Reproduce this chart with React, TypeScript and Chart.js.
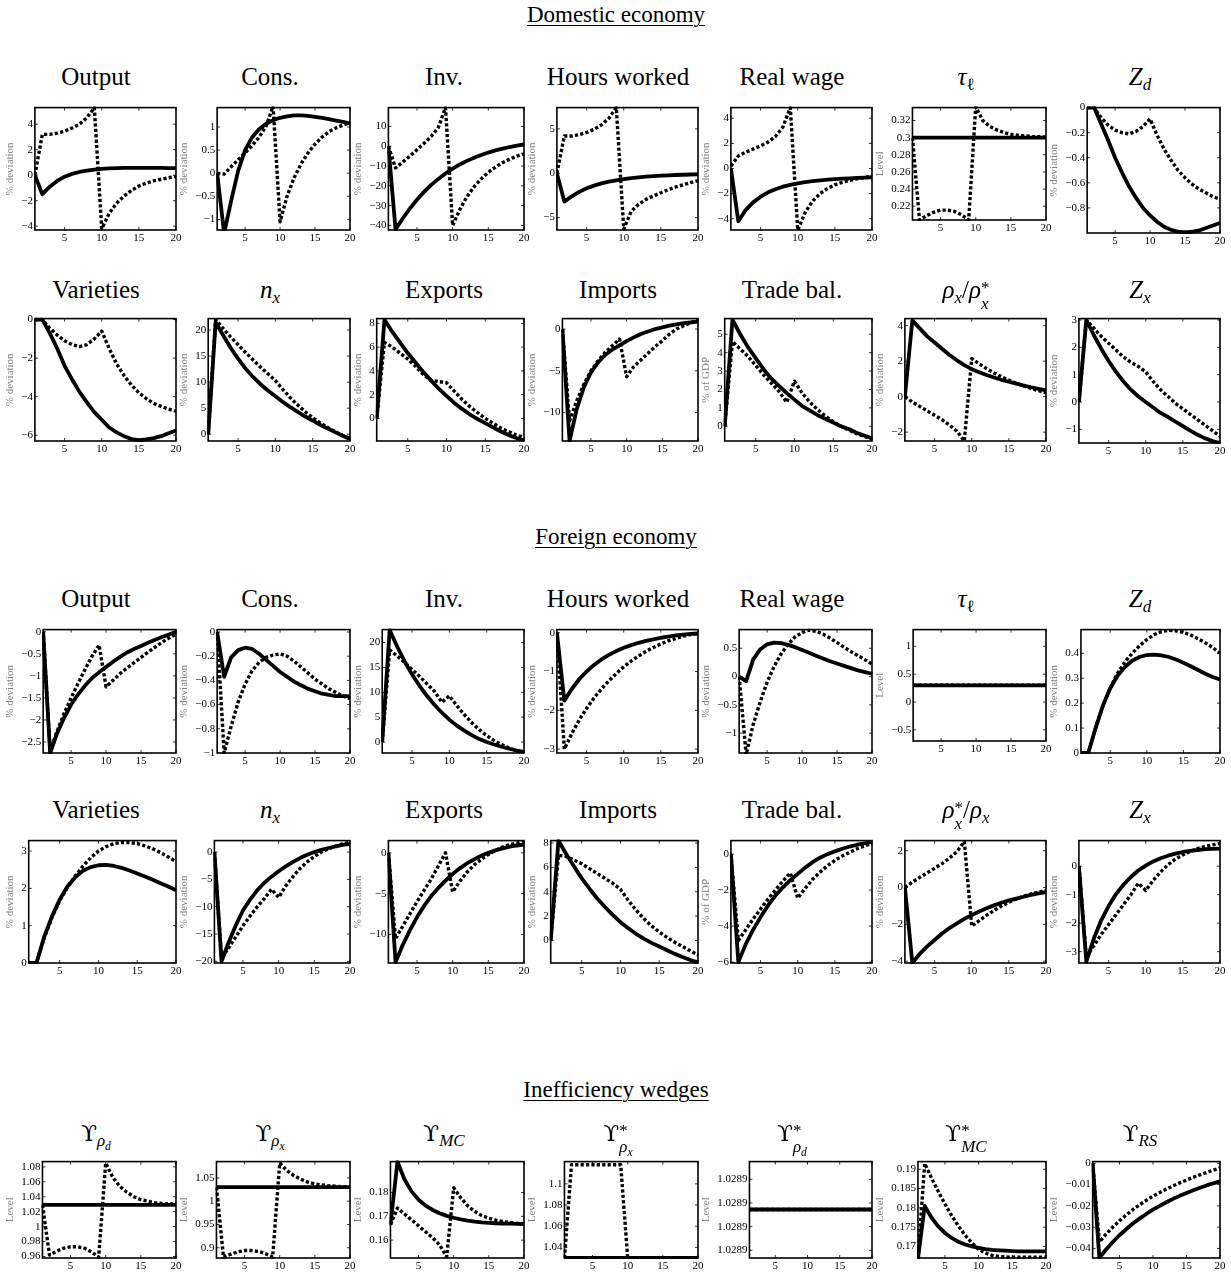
import React, { useEffect, useRef } from "react";
import { Chart, registerables } from "chart.js";
Chart.register(...registerables);

const FONT = "'Liberation Serif', 'Times New Roman', Times, serif";

// ---------- data ----------
const periods = [1, 2, 3, 4, 5, 6, 7, 8, 9, 10, 11, 12, 13, 14, 15, 16, 17, 18, 19, 20];
const xTickValues = [5, 10, 15, 20];

// Domestic economy, row 1
const domOutputSolid = [0, -1.5, -0.9, -0.45, -0.12, 0.1, 0.25, 0.36, 0.44, 0.5, 0.53, 0.55, 0.57, 0.58, 0.58, 0.58, 0.58, 0.57, 0.56, 0.55];
const domOutputDotted = [0, 3.2, 3.2, 3.3, 3.45, 3.7, 4.0, 4.5, 5.3, -4.2, -3.0, -2.2, -1.65, -1.2, -0.85, -0.62, -0.45, -0.32, -0.2, -0.1];
const domOutputTicks = [-4, -2, 0, 2, 4];
const domConsSolid = [0, -1.3, -0.6, 0.05, 0.5, 0.78, 0.95, 1.07, 1.15, 1.2, 1.23, 1.25, 1.25, 1.24, 1.22, 1.2, 1.17, 1.14, 1.11, 1.08];
const domConsDotted = [0, -0.02, 0.14, 0.29, 0.44, 0.6, 0.78, 1.02, 1.45, -1.05, -0.5, -0.1, 0.2, 0.44, 0.63, 0.78, 0.9, 0.98, 1.04, 1.1];
const domConsTicks = [-1, -0.5, 0, 0.5, 1];
const domInvSolid = [0, -42, -36.5, -31.5, -27, -23, -19.5, -16.5, -13.8, -11.3, -9.2, -7.4, -5.8, -4.4, -3.2, -2.1, -1.2, -0.4, 0.3, 0.9];
const domInvDotted = [0, -11, -8, -5, -1.8, 1.5, 5, 9.5, 19.5, -40, -32, -25.5, -20.5, -16.5, -13.2, -10.5, -8.3, -6.5, -5, -3.8];
const domInvTicks = [-40, -30, -20, -10, 0, 10];
const domHoursSolid = [0, -3.2, -2.6, -2.1, -1.7, -1.4, -1.15, -0.95, -0.8, -0.66, -0.55, -0.46, -0.39, -0.33, -0.28, -0.24, -0.2, -0.17, -0.14, -0.12];
const domHoursDotted = [0, 4.2, 4.2, 4.35, 4.6, 4.95, 5.45, 6.2, 7.4, -6.3, -4.3, -3.5, -2.95, -2.55, -2.2, -1.85, -1.55, -1.3, -1.05, -0.85];
const domHoursTicks = [-5, 0, 5];
const domWageSolid = [0, -4.2, -3.3, -2.7, -2.25, -1.9, -1.65, -1.45, -1.3, -1.18, -1.08, -1.0, -0.94, -0.89, -0.85, -0.81, -0.78, -0.75, -0.72, -0.7];
const domWageDotted = [0.2, 1.0, 1.3, 1.55, 1.8, 2.1, 2.55, 3.3, 4.85, -4.9, -3.5, -2.6, -2.0, -1.6, -1.3, -1.1, -0.95, -0.82, -0.72, -0.62];
const domWageTicks = [-4, -2, 0, 2, 4];
const domTauSolid = [0.3, 0.3, 0.3, 0.3, 0.3, 0.3, 0.3, 0.3, 0.3, 0.3, 0.3, 0.3, 0.3, 0.3, 0.3, 0.3, 0.3, 0.3, 0.3, 0.3];
const domTauDotted = [0.3, 0.204, 0.209, 0.213, 0.2155, 0.2155, 0.214, 0.21, 0.204, 0.336, 0.32, 0.313, 0.309, 0.306, 0.304, 0.3028, 0.302, 0.3014, 0.301, 0.3006];
const domTauTicks = [0.22, 0.24, 0.26, 0.28, 0.3, 0.32];
const domZdSolid = [0, 0, -0.13, -0.26, -0.4, -0.52, -0.63, -0.72, -0.8, -0.86, -0.91, -0.95, -0.975, -0.99, -0.995, -0.99, -0.98, -0.96, -0.94, -0.92];
const domZdDotted = [0, 0, -0.08, -0.14, -0.18, -0.2, -0.21, -0.19, -0.15, -0.09, -0.22, -0.33, -0.42, -0.5, -0.56, -0.61, -0.65, -0.68, -0.71, -0.73];
const domZdTicks = [-0.8, -0.6, -0.4, -0.2, 0];

// Domestic economy, row 2
const domVarSolid = [0, 0, -0.7, -1.5, -2.4, -3.1, -3.75, -4.3, -4.8, -5.2, -5.6, -5.85, -6.05, -6.2, -6.25, -6.22, -6.15, -6.05, -5.9, -5.75];
const domVarDotted = [0, 0, -0.45, -0.8, -1.1, -1.3, -1.4, -1.3, -1.0, -0.6, -1.5, -2.3, -2.9, -3.4, -3.8, -4.1, -4.35, -4.5, -4.65, -4.75];
const domVarTicks = [-6, -4, -2, 0];
const domNxSolid = [0, 21.5, 19, 16.6, 14.5, 12.6, 11, 9.6, 8.4, 7.3, 6.2, 5.2, 4.3, 3.4, 2.6, 1.8, 1.1, 0.4, -0.3, -0.9];
const domNxDotted = [0, 22, 20.3, 18.7, 17.2, 15.7, 14.3, 12.9, 11.6, 10.3, 8.6, 7.0, 5.6, 4.3, 3.2, 2.2, 1.3, 0.5, -0.2, -0.8];
const domNxTicks = [0, 5, 10, 15, 20];
const domExpSolid = [0, 8.3, 7.3, 6.4, 5.5, 4.7, 3.9, 3.2, 2.5, 1.9, 1.3, 0.8, 0.35, -0.05, -0.4, -0.75, -1.1, -1.4, -1.65, -1.85];
const domExpDotted = [0, 6.4, 6.0, 5.5, 5.0, 4.4, 3.7, 3.2, 3.1, 3.0, 2.3, 1.6, 1.0, 0.5, 0.0, -0.4, -0.8, -1.1, -1.4, -1.6];
const domExpTicks = [0, 2, 4, 6, 8];
const domImpSolid = [0, -13.4, -9.6, -7.0, -5.2, -4.0, -3.1, -2.45, -1.95, -1.45, -1.0, -0.6, -0.3, 0.0, 0.2, 0.4, 0.55, 0.7, 0.8, 0.9];
const domImpDotted = [0, -11, -8.6, -6.6, -5.0, -3.8, -2.8, -2.0, -1.2, -5.7, -4.5, -3.7, -2.9, -2.1, -1.4, -0.6, 0.0, 0.4, 0.75, 1.05];
const domImpTicks = [-10, -5, 0];
const domTbSolid = [0, 5.8, 5.0, 4.3, 3.7, 3.1, 2.6, 2.2, 1.8, 1.45, 1.1, 0.85, 0.6, 0.4, 0.2, 0.0, -0.15, -0.35, -0.5, -0.65];
const domTbDotted = [0, 4.6, 4.2, 3.8, 3.3, 2.8, 2.35, 1.9, 1.3, 2.45, 1.8, 1.3, 0.9, 0.55, 0.25, 0.0, -0.2, -0.4, -0.55, -0.7];
const domTbTicks = [0, 1, 2, 3, 4, 5];
const domRhoSolid = [0, 4.3, 3.85, 3.4, 3.05, 2.7, 2.35, 2.05, 1.78, 1.55, 1.38, 1.22, 1.08, 0.95, 0.84, 0.73, 0.63, 0.53, 0.44, 0.35];
const domRhoDotted = [0, -0.3, -0.55, -0.8, -1.05, -1.3, -1.6, -1.95, -2.5, 2.15, 1.85, 1.58, 1.34, 1.12, 0.93, 0.75, 0.6, 0.46, 0.34, 0.22];
const domRhoTicks = [-2, 0, 2, 4];
const domZxSolid = [0, 3.0, 2.45, 1.95, 1.5, 1.1, 0.75, 0.45, 0.2, 0.0, -0.2, -0.4, -0.55, -0.72, -0.88, -1.05, -1.2, -1.33, -1.43, -1.5];
const domZxDotted = [0, 3.0, 2.7, 2.4, 2.15, 1.9, 1.65, 1.45, 1.3, 1.1, 0.75, 0.45, 0.2, -0.05, -0.25, -0.45, -0.65, -0.85, -1.05, -1.25];
const domZxTicks = [-1, 0, 1, 2, 3];

// Foreign economy, row 1
const forOutputSolid = [0, -2.75, -2.3, -1.95, -1.65, -1.42, -1.22, -1.05, -0.92, -0.8, -0.68, -0.57, -0.47, -0.39, -0.32, -0.25, -0.18, -0.12, -0.06, 0.0];
const forOutputDotted = [0, -2.7, -2.25, -1.85, -1.5, -1.17, -0.85, -0.55, -0.3, -1.25, -1.1, -0.95, -0.82, -0.7, -0.58, -0.46, -0.35, -0.24, -0.14, -0.05];
const forOutputTicks = [-2.5, -2, -1.5, -1, -0.5, 0];
const forConsSolid = [0, -0.37, -0.21, -0.15, -0.13, -0.14, -0.18, -0.23, -0.28, -0.33, -0.37, -0.41, -0.44, -0.47, -0.49, -0.51, -0.52, -0.53, -0.53, -0.53];
const forConsDotted = [0, -1.0, -0.78, -0.58, -0.43, -0.32, -0.25, -0.21, -0.19, -0.18, -0.2, -0.24, -0.29, -0.34, -0.39, -0.43, -0.47, -0.5, -0.53, -0.55];
const forConsTicks = [-1, -0.8, -0.6, -0.4, -0.2, 0];
const forInvSolid = [0, 22.5, 19.2, 16.2, 13.6, 11.3, 9.3, 7.5, 5.9, 4.5, 3.3, 2.3, 1.4, 0.6, 0.0, -0.5, -0.95, -1.35, -1.7, -1.95];
const forInvDotted = [0, 18.5, 17.3, 16, 14.6, 13.2, 11.7, 10.2, 8.0, 9.3, 7.3, 5.5, 3.9, 2.5, 1.3, 0.3, -0.5, -1.2, -1.7, -2.0];
const forInvTicks = [0, 5, 10, 15, 20];
const forHoursSolid = [0, -1.75, -1.45, -1.2, -1.0, -0.83, -0.69, -0.57, -0.47, -0.39, -0.32, -0.26, -0.21, -0.17, -0.13, -0.1, -0.07, -0.05, -0.03, -0.02];
const forHoursDotted = [0, -3.0, -2.6, -2.25, -1.95, -1.68, -1.45, -1.24, -1.05, -0.88, -0.73, -0.6, -0.48, -0.38, -0.29, -0.21, -0.15, -0.09, -0.05, -0.02];
const forHoursTicks = [-3, -2, -1, 0];
const forWageSolid = [0, -0.08, 0.3, 0.48, 0.57, 0.6, 0.59, 0.56, 0.52, 0.47, 0.42, 0.37, 0.32, 0.27, 0.23, 0.19, 0.15, 0.11, 0.08, 0.05];
const forWageDotted = [0, -1.38, -0.85, -0.45, -0.1, 0.18, 0.4, 0.57, 0.7, 0.78, 0.82, 0.8, 0.75, 0.68, 0.6, 0.52, 0.44, 0.37, 0.3, 0.22];
const forWageTicks = [-1, -0.5, 0, 0.5];
const forTauSolid = [0.3, 0.3, 0.3, 0.3, 0.3, 0.3, 0.3, 0.3, 0.3, 0.3, 0.3, 0.3, 0.3, 0.3, 0.3, 0.3, 0.3, 0.3, 0.3, 0.3];
const forTauDotted = [0.3, 0.3, 0.3, 0.3, 0.3, 0.3, 0.3, 0.3, 0.3, 0.3, 0.3, 0.3, 0.3, 0.3, 0.3, 0.3, 0.3, 0.3, 0.3, 0.3];
const forTauTicks = [-0.5, 0, 0.5, 1];
const forZdSolid = [0, 0, 0.1, 0.19, 0.26, 0.31, 0.345, 0.37, 0.385, 0.393, 0.395, 0.392, 0.385, 0.375, 0.362, 0.348, 0.333, 0.318, 0.305, 0.295];
const forZdDotted = [0, 0, 0.1, 0.19, 0.26, 0.32, 0.365, 0.4, 0.43, 0.455, 0.475, 0.487, 0.492, 0.49, 0.484, 0.473, 0.458, 0.442, 0.423, 0.4];
const forZdTicks = [0, 0.1, 0.2, 0.3, 0.4];

// Foreign economy, row 2
const forVarSolid = [0, 0, 0.7, 1.25, 1.7, 2.05, 2.3, 2.47, 2.57, 2.62, 2.63, 2.6, 2.55, 2.48, 2.4, 2.32, 2.23, 2.14, 2.05, 1.95];
const forVarDotted = [0, 0, 0.68, 1.22, 1.67, 2.03, 2.33, 2.6, 2.82, 3.0, 3.12, 3.2, 3.23, 3.23, 3.2, 3.14, 3.06, 2.96, 2.84, 2.72];
const forVarTicks = [0, 1, 2, 3];
const forNxSolid = [0, -20, -16.5, -13.4, -10.7, -8.7, -7.0, -5.6, -4.5, -3.5, -2.6, -1.8, -1.1, -0.5, 0.0, 0.4, 0.75, 1.05, 1.3, 1.5];
const forNxDotted = [0, -19.5, -17.5, -15.5, -13.5, -11.7, -10, -8.5, -6.8, -8.3, -6.2, -4.5, -3.0, -1.8, -0.8, 0, 0.6, 1.1, 1.5, 1.8];
const forNxTicks = [-20, -15, -10, -5, 0];
const forExpSolid = [0, -13.4, -11.3, -9.5, -7.9, -6.5, -5.3, -4.3, -3.4, -2.6, -1.9, -1.3, -0.8, -0.35, 0.0, 0.3, 0.55, 0.75, 0.9, 1.0];
const forExpDotted = [0, -10.5, -9.0, -7.5, -6.0, -4.6, -3.2, -1.6, 0.0, -4.8, -3.5, -2.4, -1.5, -0.8, -0.2, 0.3, 0.7, 1.0, 1.2, 1.4];
const forExpTicks = [-10, -5, 0];
const forImpSolid = [0, 8.2, 7.1, 6.1, 5.1, 4.25, 3.45, 2.75, 2.1, 1.5, 1.0, 0.55, 0.15, -0.2, -0.5, -0.8, -1.1, -1.35, -1.6, -1.8];
const forImpDotted = [0, 7.0, 6.9, 6.6, 6.3, 5.9, 5.5, 5.1, 4.7, 4.2, 3.3, 2.5, 1.8, 1.2, 0.7, 0.25, -0.15, -0.5, -0.85, -1.2];
const forImpTicks = [0, 2, 4, 6, 8];
const forTbSolid = [0, -6.0, -5.0, -4.2, -3.5, -2.85, -2.3, -1.85, -1.45, -1.1, -0.75, -0.45, -0.2, 0.0, 0.15, 0.3, 0.42, 0.52, 0.6, 0.68];
const forTbDotted = [0, -4.8, -4.2, -3.6, -3.05, -2.5, -2.0, -1.5, -1.05, -2.45, -1.9, -1.4, -1.0, -0.65, -0.35, -0.1, 0.1, 0.3, 0.45, 0.6];
const forTbTicks = [-6, -4, -2, 0];
const forRhoSolid = [0, -4.1, -3.6, -3.2, -2.85, -2.5, -2.2, -1.95, -1.7, -1.5, -1.3, -1.13, -0.97, -0.83, -0.7, -0.6, -0.5, -0.4, -0.32, -0.25];
const forRhoDotted = [0, 0.3, 0.55, 0.8, 1.05, 1.3, 1.6, 1.95, 2.5, -2.1, -1.8, -1.5, -1.25, -1.0, -0.8, -0.62, -0.47, -0.35, -0.25, -0.15];
const forRhoTicks = [-4, -2, 0, 2];
const forZxSolid = [0, -3.35, -2.55, -1.9, -1.4, -0.98, -0.65, -0.38, -0.15, 0.02, 0.17, 0.28, 0.37, 0.44, 0.5, 0.54, 0.57, 0.6, 0.61, 0.62];
const forZxDotted = [0, -3.2, -2.8, -2.4, -2.05, -1.7, -1.35, -1.0, -0.6, -0.85, -0.5, -0.2, 0.05, 0.25, 0.4, 0.52, 0.62, 0.7, 0.75, 0.8];
const forZxTicks = [-3, -2, -1, 0];

// Inefficiency wedges
const wRhoDSolid = [1.029, 1.029, 1.029, 1.029, 1.029, 1.029, 1.029, 1.029, 1.029, 1.029, 1.029, 1.029, 1.029, 1.029, 1.029, 1.029, 1.029, 1.029, 1.029, 1.029];
const wRhoDDotted = [1.029, 0.962, 0.967, 0.971, 0.973, 0.973, 0.971, 0.966, 0.959, 1.085, 1.066, 1.054, 1.046, 1.04, 1.036, 1.034, 1.032, 1.031, 1.0305, 1.03];
const wRhoDTicks = [0.96, 0.98, 1, 1.02, 1.04, 1.06, 1.08];
const wRhoXSolid = [1.03, 1.03, 1.03, 1.03, 1.03, 1.03, 1.03, 1.03, 1.03, 1.03, 1.03, 1.03, 1.03, 1.03, 1.03, 1.03, 1.03, 1.03, 1.03, 1.03];
const wRhoXDotted = [1.03, 0.88, 0.886, 0.891, 0.894, 0.894, 0.892, 0.887, 0.88, 1.082, 1.066, 1.055, 1.047, 1.041, 1.037, 1.035, 1.033, 1.032, 1.031, 1.03];
const wRhoXTicks = [0.9, 0.95, 1, 1.05];
const wMcSolid = [0.1665, 0.193, 0.1855, 0.1805, 0.177, 0.1745, 0.1727, 0.1713, 0.1702, 0.1694, 0.1687, 0.1682, 0.1678, 0.1675, 0.1673, 0.1671, 0.167, 0.1669, 0.1668, 0.1667];
const wMcDotted = [0.1665, 0.1735, 0.171, 0.1685, 0.166, 0.1635, 0.161, 0.158, 0.153, 0.182, 0.1778, 0.1744, 0.172, 0.1703, 0.1692, 0.1684, 0.1678, 0.1674, 0.1671, 0.1669];
const wMcTicks = [0.16, 0.17, 0.18];
const wRhoXsSolid = [1.03, 1.03, 1.03, 1.03, 1.03, 1.03, 1.03, 1.03, 1.03, 1.03, 1.03, 1.03, 1.03, 1.03, 1.03, 1.03, 1.03, 1.03, 1.03, 1.03];
const wRhoXsDotted = [1.03, 1.118, 1.118, 1.118, 1.118, 1.118, 1.118, 1.118, 1.118, 1.03, 1.03, 1.03, 1.03, 1.03, 1.03, 1.03, 1.03, 1.03, 1.03, 1.03];
const wRhoXsTicks = [1.04, 1.06, 1.08, 1.1];
const wRhoDsSolid = [1.0288579, 1.0288579, 1.0288579, 1.0288579, 1.0288579, 1.0288579, 1.0288579, 1.0288579, 1.0288579, 1.0288579, 1.0288579, 1.0288579, 1.0288579, 1.0288579, 1.0288579, 1.0288579, 1.0288579, 1.0288579, 1.0288579, 1.0288579];
const wRhoDsDotted = [1.0288579, 1.0288579, 1.0288579, 1.0288579, 1.0288579, 1.0288579, 1.0288579, 1.0288579, 1.0288579, 1.0288579, 1.0288579, 1.0288579, 1.0288579, 1.0288579, 1.0288579, 1.0288579, 1.0288579, 1.0288579, 1.0288579, 1.0288579];
const wRhoDsTicks = [1.028851, 1.028855, 1.028859, 1.028863];
const wMcsSolid = [0.1668, 0.1805, 0.1775, 0.1752, 0.1735, 0.1722, 0.1712, 0.1705, 0.17, 0.1696, 0.1693, 0.1691, 0.169, 0.1689, 0.1688, 0.1687, 0.1687, 0.1687, 0.1687, 0.1687];
const wMcsDotted = [0.1668, 0.1915, 0.1878, 0.1843, 0.181, 0.178, 0.1753, 0.1729, 0.1709, 0.1693, 0.1683, 0.1677, 0.1674, 0.1673, 0.1672, 0.1672, 0.1672, 0.1672, 0.1672, 0.1672];
const wMcsTicks = [0.17, 0.175, 0.18, 0.185, 0.19];
const wRsSolid = [0, -0.0445, -0.0405, -0.037, -0.0338, -0.031, -0.0283, -0.026, -0.0238, -0.0218, -0.02, -0.0183, -0.0167, -0.0153, -0.014, -0.0127, -0.0115, -0.0104, -0.0094, -0.0085];
const wRsDotted = [0, -0.037, -0.0333, -0.03, -0.027, -0.0243, -0.0218, -0.0195, -0.0174, -0.0155, -0.0137, -0.0121, -0.0106, -0.0092, -0.0079, -0.0066, -0.0054, -0.0043, -0.0032, -0.0022];
const wRsTicks = [-0.04, -0.03, -0.02, -0.01, 0];

// ---------- layout ----------
const COL_RIGHT = [176, 350, 524, 698, 872, 1046, 1220];
const ROW_TITLE_Y = [77, 290, 599, 810, 1133];
const ROW_BOX: number[][] = [[105, 230], [316, 441], [627, 753], [838, 963], [1159, 1258]];
const PAD_TOP = 6;
const PAD_RIGHT = 8;
const X_AXIS_H = 16;
const CANVAS_W = 180;
const TICK_SIZE = 11;

const DEV = "% deviation";
const GDP = "% of GDP";
const LEVEL = "Level";

const Sub = ({ children }: { children: React.ReactNode }) => (
  <span style={{ fontSize: "0.68em", verticalAlign: "-0.32em", lineHeight: 0 }}>{children}</span>
);
const SupSub = ({ sup, sub }: { sup: React.ReactNode; sub: React.ReactNode }) => (
  <span style={{ display: "inline-flex", flexDirection: "column", fontSize: "0.68em", lineHeight: 0.95, verticalAlign: "0.3em", textAlign: "left" }}>
    <span>{sup}</span>
    <span>{sub}</span>
  </span>
);
const I = ({ children }: { children: React.ReactNode }) => <span style={{ fontStyle: "italic" }}>{children}</span>;
const Ups = () => <span style={{ fontFamily: "'DejaVu Serif', serif", fontSize: "0.92em" }}>ϒ</span>;

type Panel = {
  row: number;
  col: number;
  title: React.ReactNode;
  ylabel: string;
  solid: number[];
  dotted: number[];
  yMin: number;
  yMax: number;
  yTicks: number[];
  digits?: number;
  boxTop?: number;
  boxBottom?: number;
};

const panels: Panel[] = [
  { row: 0, col: 0, title: "Output", ylabel: DEV, solid: domOutputSolid, dotted: domOutputDotted, yMin: -4.3, yMax: 5.3, yTicks: domOutputTicks },
  { row: 0, col: 1, title: "Cons.", ylabel: DEV, solid: domConsSolid, dotted: domConsDotted, yMin: -1.23, yMax: 1.42, yTicks: domConsTicks },
  { row: 0, col: 2, title: "Inv.", ylabel: DEV, solid: domInvSolid, dotted: domInvDotted, yMin: -42.3, yMax: 19.5, yTicks: domInvTicks },
  { row: 0, col: 3, title: "Hours worked", ylabel: DEV, solid: domHoursSolid, dotted: domHoursDotted, yMin: -6.4, yMax: 7.4, yTicks: domHoursTicks },
  { row: 0, col: 4, title: "Real wage", ylabel: DEV, solid: domWageSolid, dotted: domWageDotted, yMin: -4.9, yMax: 4.85, yTicks: domWageTicks },
  { row: 0, col: 5, title: <><I>τ</I><Sub>ℓ</Sub></>, ylabel: LEVEL, solid: domTauSolid, dotted: domTauDotted, yMin: 0.204, yMax: 0.335, yTicks: domTauTicks, boxBottom: 220 },
  { row: 0, col: 6, title: <><I>Z</I><Sub><I>d</I></Sub></>, ylabel: DEV, solid: domZdSolid, dotted: domZdDotted, yMin: -1.0, yMax: 0, yTicks: domZdTicks, boxBottom: 233 },

  { row: 1, col: 0, title: "Varieties", ylabel: DEV, solid: domVarSolid, dotted: domVarDotted, yMin: -6.3, yMax: 0.05, yTicks: domVarTicks },
  { row: 1, col: 1, title: <><I>n</I><Sub><I>x</I></Sub></>, ylabel: DEV, solid: domNxSolid, dotted: domNxDotted, yMin: -1.3, yMax: 22.2, yTicks: domNxTicks },
  { row: 1, col: 2, title: "Exports", ylabel: DEV, solid: domExpSolid, dotted: domExpDotted, yMin: -1.9, yMax: 8.4, yTicks: domExpTicks },
  { row: 1, col: 3, title: "Imports", ylabel: DEV, solid: domImpSolid, dotted: domImpDotted, yMin: -13.4, yMax: 1.25, yTicks: domImpTicks },
  { row: 1, col: 4, title: "Trade bal.", ylabel: GDP, solid: domTbSolid, dotted: domTbDotted, yMin: -0.8, yMax: 5.85, yTicks: domTbTicks },
  { row: 1, col: 5, title: <><I>ρ</I><Sub><I>x</I></Sub>/<I>ρ</I><SupSub sup="*" sub={<I>x</I>} /></>, ylabel: DEV, solid: domRhoSolid, dotted: domRhoDotted, yMin: -2.5, yMax: 4.4, yTicks: domRhoTicks },
  { row: 1, col: 6, title: <><I>Z</I><Sub><I>x</I></Sub></>, ylabel: DEV, solid: domZxSolid, dotted: domZxDotted, yMin: -1.5, yMax: 3.05, yTicks: domZxTicks, boxBottom: 443 },

  { row: 2, col: 0, title: "Output", ylabel: DEV, solid: forOutputSolid, dotted: forOutputDotted, yMin: -2.75, yMax: 0.05, yTicks: forOutputTicks },
  { row: 2, col: 1, title: "Cons.", ylabel: DEV, solid: forConsSolid, dotted: forConsDotted, yMin: -1.0, yMax: 0.02, yTicks: forConsTicks },
  { row: 2, col: 2, title: "Inv.", ylabel: DEV, solid: forInvSolid, dotted: forInvDotted, yMin: -2.2, yMax: 22.6, yTicks: forInvTicks },
  { row: 2, col: 3, title: "Hours worked", ylabel: DEV, solid: forHoursSolid, dotted: forHoursDotted, yMin: -3.1, yMax: 0.08, yTicks: forHoursTicks },
  { row: 2, col: 4, title: "Real wage", ylabel: DEV, solid: forWageSolid, dotted: forWageDotted, yMin: -1.35, yMax: 0.83, yTicks: forWageTicks },
  { row: 2, col: 5, title: <><I>τ</I><Sub>ℓ</Sub></>, ylabel: LEVEL, solid: forTauSolid, dotted: forTauDotted, yMin: -0.7, yMax: 1.3, yTicks: forTauTicks, boxBottom: 741 },
  { row: 2, col: 6, title: <><I>Z</I><Sub><I>d</I></Sub></>, ylabel: DEV, solid: forZdSolid, dotted: forZdDotted, yMin: 0, yMax: 0.495, yTicks: forZdTicks },

  { row: 3, col: 0, title: "Varieties", ylabel: DEV, solid: forVarSolid, dotted: forVarDotted, yMin: 0, yMax: 3.28, yTicks: forVarTicks },
  { row: 3, col: 1, title: <><I>n</I><Sub><I>x</I></Sub></>, ylabel: DEV, solid: forNxSolid, dotted: forNxDotted, yMin: -20.3, yMax: 2.1, yTicks: forNxTicks },
  { row: 3, col: 2, title: "Exports", ylabel: DEV, solid: forExpSolid, dotted: forExpDotted, yMin: -13.5, yMax: 1.5, yTicks: forExpTicks },
  { row: 3, col: 3, title: "Imports", ylabel: DEV, solid: forImpSolid, dotted: forImpDotted, yMin: -1.85, yMax: 8.2, yTicks: forImpTicks },
  { row: 3, col: 4, title: "Trade bal.", ylabel: GDP, solid: forTbSolid, dotted: forTbDotted, yMin: -6.05, yMax: 0.75, yTicks: forTbTicks },
  { row: 3, col: 5, title: <><I>ρ</I><SupSub sup="*" sub={<I>x</I>} />/<I>ρ</I><Sub><I>x</I></Sub></>, ylabel: DEV, solid: forRhoSolid, dotted: forRhoDotted, yMin: -4.1, yMax: 2.55, yTicks: forRhoTicks },
  { row: 3, col: 6, title: <><I>Z</I><Sub><I>x</I></Sub></>, ylabel: DEV, solid: forZxSolid, dotted: forZxDotted, yMin: -3.4, yMax: 0.9, yTicks: forZxTicks },

  { row: 4, col: 0, title: <><Ups /><Sub><I>ρ</I><Sub><I>d</I></Sub></Sub></>, ylabel: LEVEL, solid: wRhoDSolid, dotted: wRhoDDotted, yMin: 0.958, yMax: 1.087, yTicks: wRhoDTicks },
  { row: 4, col: 1, title: <><Ups /><Sub><I>ρ</I><Sub><I>x</I></Sub></Sub></>, ylabel: LEVEL, solid: wRhoXSolid, dotted: wRhoXDotted, yMin: 0.878, yMax: 1.085, yTicks: wRhoXTicks },
  { row: 4, col: 2, title: <><Ups /><Sub><I>MC</I></Sub></>, ylabel: LEVEL, solid: wMcSolid, dotted: wMcDotted, yMin: 0.1525, yMax: 0.193, yTicks: wMcTicks },
  { row: 4, col: 3, title: <><Ups /><SupSub sup="*" sub={<><I>ρ</I><Sub><I>x</I></Sub></>} /></>, ylabel: LEVEL, solid: wRhoXsSolid, dotted: wRhoXsDotted, yMin: 1.03, yMax: 1.121, yTicks: wRhoXsTicks },
  { row: 4, col: 4, title: <><Ups /><SupSub sup="*" sub={<><I>ρ</I><Sub><I>d</I></Sub></>} /></>, ylabel: LEVEL, solid: wRhoDsSolid, dotted: wRhoDsDotted, yMin: 1.0288497, yMax: 1.028866, yTicks: wRhoDsTicks, digits: 4 },
  { row: 4, col: 5, title: <><Ups /><SupSub sup="*" sub={<I>MC</I>} /></>, ylabel: LEVEL, solid: wMcsSolid, dotted: wMcsDotted, yMin: 0.167, yMax: 0.192, yTicks: wMcsTicks },
  { row: 4, col: 6, title: <><Ups /><Sub><I>RS</I></Sub></>, ylabel: LEVEL, solid: wRsSolid, dotted: wRsDotted, yMin: -0.0445, yMax: 0.0008, yTicks: wRsTicks },
];

const sections = [
  { text: "Domestic economy", y: 15 },
  { text: "Foreign economy", y: 537 },
  { text: "Inefficiency wedges", y: 1090 },
];

function fmt(v: number, digits?: number): string {
  const a = Math.abs(v);
  const s = digits != null ? a.toFixed(digits) : String(a);
  return (v < 0 ? "\u2212" : "") + s;
}

const boxPlugin = {
  id: "matlabBox",
  afterDatasetsDraw(chart: any) {
    const { ctx, chartArea, scales } = chart;
    const { left, right, top, bottom } = chartArea;
    const x = scales.x;
    const y = scales.y;
    ctx.save();
    ctx.strokeStyle = "#000";
    ctx.lineWidth = 0.8;
    ctx.beginPath();
    for (const t of y.ticks) {
      const py = y.getPixelForValue(t.value);
      ctx.moveTo(left, py);
      ctx.lineTo(left + 3, py);
      ctx.moveTo(right, py);
      ctx.lineTo(right - 3, py);
    }
    for (const t of x.ticks) {
      const px = x.getPixelForValue(t.value);
      ctx.moveTo(px, bottom);
      ctx.lineTo(px, bottom - 3);
      ctx.moveTo(px, top);
      ctx.lineTo(px, top + 3);
    }
    ctx.stroke();
    ctx.lineWidth = 1.6;
    ctx.strokeRect(left, top, right - left, bottom - top);
    ctx.restore();
  },
};

function PanelView({ p }: { p: Panel }) {
  const ref = useRef<HTMLCanvasElement>(null);
  const bt = p.boxTop ?? ROW_BOX[p.row][0];
  const bb = p.boxBottom ?? ROW_BOX[p.row][1];
  const right = COL_RIGHT[p.col];
  const H = bb - bt + PAD_TOP + X_AXIS_H;
  const left = right - (CANVAS_W - PAD_RIGHT);

  useEffect(() => {
    if (!ref.current) return;
    const chart = new Chart(ref.current, {
      type: "line",
      data: {
        datasets: [
          {
            data: periods.map((t, i) => ({ x: t, y: p.dotted[i] })),
            borderColor: "#000",
            borderWidth: 3.4,
            borderDash: [3.2, 2.2],
            borderCapStyle: "butt",
            borderJoinStyle: "round",
            pointRadius: 0,
            tension: 0,
            clip: 1,
          } as any,
          {
            data: periods.map((t, i) => ({ x: t, y: p.solid[i] })),
            borderColor: "#000",
            borderWidth: 3.8,
            borderJoinStyle: "round",
            pointRadius: 0,
            tension: 0,
            clip: 1,
          } as any,
        ],
      },
      options: {
        animation: false,
        responsive: false,
        events: [],
        layout: { padding: { left: 0, right: PAD_RIGHT, top: PAD_TOP, bottom: 0 } },
        plugins: { legend: { display: false }, tooltip: { enabled: false }, title: { display: false } },
        scales: {
          x: {
            type: "linear",
            min: 1,
            max: 20,
            grid: { display: false, drawTicks: false },
            border: { display: false },
            ticks: { color: "#000", font: { family: FONT, size: TICK_SIZE }, padding: 2, maxRotation: 0, autoSkip: false },
            afterBuildTicks: (s: any) => {
              s.ticks = xTickValues.map((v) => ({ value: v }));
            },
            afterFit: (s: any) => {
              s.height = X_AXIS_H;
            },
          },
          y: {
            type: "linear",
            min: p.yMin,
            max: p.yMax,
            grid: { display: false, drawTicks: false },
            border: { display: false },
            ticks: {
              color: "#000",
              font: { family: FONT, size: TICK_SIZE },
              padding: 2,
              autoSkip: false,
              callback: (v: any) => fmt(Number(v), p.digits),
            },
            afterBuildTicks: (s: any) => {
              s.ticks = p.yTicks.map((v) => ({ value: v }));
            },
            title: {
              display: true,
              text: p.ylabel,
              color: "#7f7f7f",
              font: { family: FONT, size: 11 },
              padding: { top: 0, bottom: 2 },
            },
          },
        },
      } as any,
      plugins: [boxPlugin as any],
    });
    return () => chart.destroy();
  }, []);

  return (
    <>
      <div
        style={{
          position: "absolute",
          left: right - 80 - 110,
          width: 220,
          top: ROW_TITLE_Y[p.row] - 16,
          height: 32,
          lineHeight: "32px",
          textAlign: "center",
          fontSize: 25,
          fontFamily: FONT,
          whiteSpace: "nowrap",
          color: "#000",
        }}
      >
        {p.title}
      </div>
      <canvas
        ref={ref}
        width={CANVAS_W}
        height={H}
        style={{ position: "absolute", left, top: bt - PAD_TOP, width: CANVAS_W, height: H }}
      />
    </>
  );
}

export default function App() {
  return (
    <div style={{ position: "absolute", left: 0, top: 0, width: 1231, height: 1274, background: "#fff", overflow: "hidden", fontFamily: FONT }}>
      {sections.map((s) => (
        <div
          key={s.text}
          style={{
            position: "absolute",
            left: 416,
            width: 400,
            top: s.y - 14,
            height: 28,
            lineHeight: "28px",
            textAlign: "center",
            fontSize: 23,
            fontFamily: FONT,
            color: "#000",
          }}
        >
          <span style={{ textDecoration: "underline", textUnderlineOffset: "3px", textDecorationThickness: "1px" }}>{s.text}</span>
        </div>
      ))}
      {panels.map((p, i) => (
        <PanelView key={i} p={p} />
      ))}
    </div>
  );
}
